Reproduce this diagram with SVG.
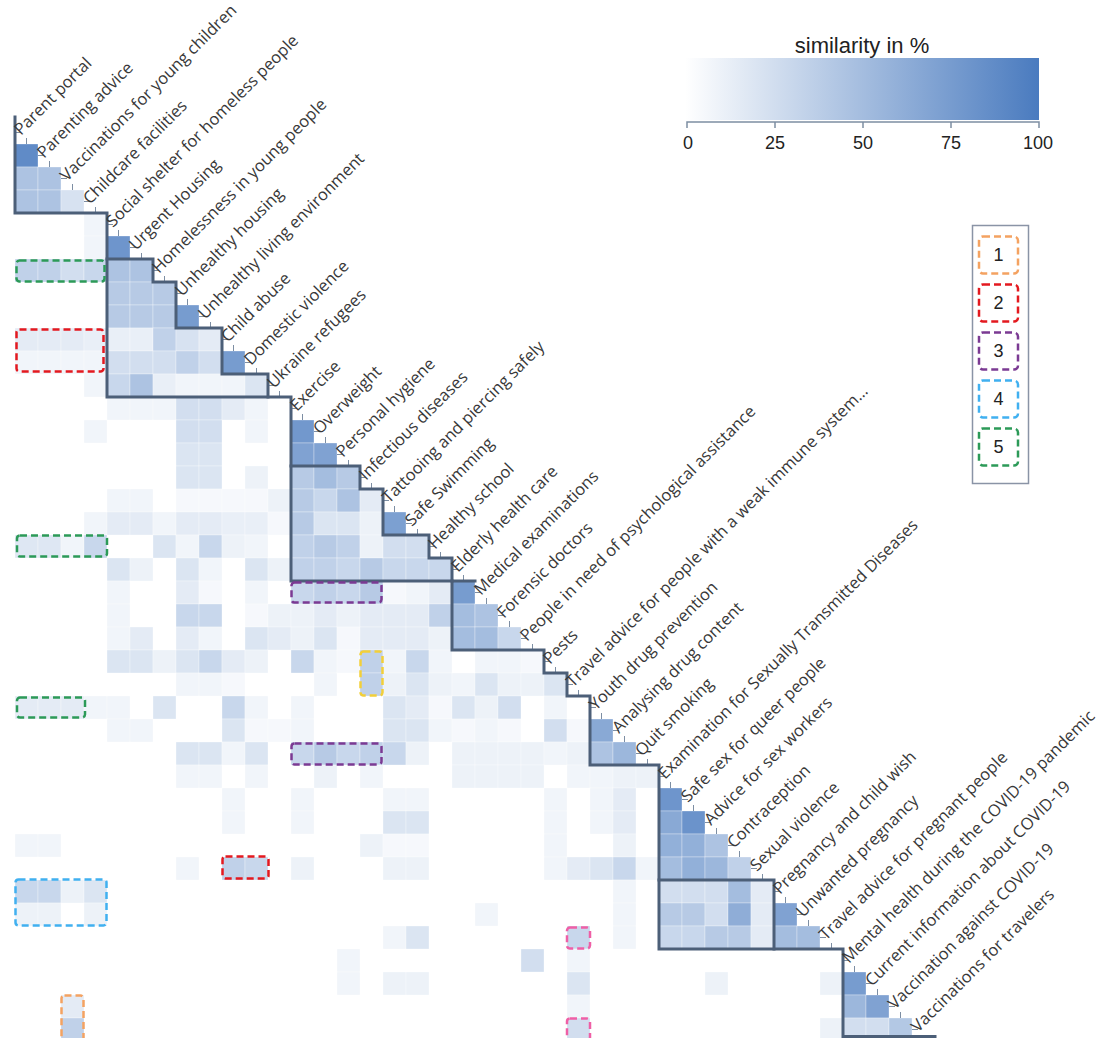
<svg xmlns="http://www.w3.org/2000/svg" width="1099" height="1038" viewBox="0 0 1099 1038">
<defs>
<linearGradient id="grad" x1="0" y1="0" x2="1" y2="0">
<stop offset="0" stop-color="#ffffff"/>
<stop offset="1" stop-color="#4a7bbf"/>
</linearGradient>
</defs>
<style>
.lab{font-family:"Open Sans","Noto Sans",sans-serif;font-size:16.5px;fill:#383838}
.num{font-family:"Liberation Sans",Arial,sans-serif;font-size:18px;fill:#222}
.ttl{font-family:"Liberation Sans",Arial,sans-serif;font-size:22px;fill:#222}
#matrix rect{fill:#4a7bbf;stroke:#fff;stroke-width:0.3}
.v5{fill-opacity:.05}.v8{fill-opacity:.08}.v10{fill-opacity:.1}.v12{fill-opacity:.12}.v15{fill-opacity:.15}.v18{fill-opacity:.18}.v20{fill-opacity:.2}.v22{fill-opacity:.22}.v25{fill-opacity:.25}.v30{fill-opacity:.3}.v35{fill-opacity:.35}.v40{fill-opacity:.4}.v42{fill-opacity:.42}.v45{fill-opacity:.45}.v50{fill-opacity:.5}.v55{fill-opacity:.55}.v60{fill-opacity:.6}.v62{fill-opacity:.62}.v65{fill-opacity:.65}.v70{fill-opacity:.7}.v72{fill-opacity:.72}.v75{fill-opacity:.75}.v78{fill-opacity:.78}.v80{fill-opacity:.8}.v82{fill-opacity:.82}.v88{fill-opacity:.88}
.ol{fill:none;stroke:#4c5f78;stroke-width:3;stroke-linecap:square}
.tk{fill:none;stroke:#7d8ea3;stroke-width:1}
.hl{fill:none;stroke-width:2.5;stroke-dasharray:7 4}
.c1{stroke:#f4a261}.c2{stroke:#e3191f}.c3{stroke:#7b3a93}.c4{stroke:#40b0f0}.c5{stroke:#2c9a58}.cy{stroke:#f2cf3a}.cp{stroke:#ef5fa6}
</style>
<rect width="1099" height="1038" fill="#fff"/>

<g id="matrix">
<g transform="translate(0,144)"><rect x="15" width="23" height="23" class="v88"/></g>
<g transform="translate(0,167)"><rect x="15" width="23" height="23" class="v45"/><rect x="38" width="23" height="23" class="v45"/></g>
<g transform="translate(0,190)"><rect x="15" width="23" height="23" class="v45"/><rect x="38" width="23" height="23" class="v45"/><rect x="61" width="23" height="23" class="v22"/></g>
<g transform="translate(0,213)"><rect x="84" width="23" height="23" class="v8"/></g>
<g transform="translate(0,236)"><rect x="84" width="23" height="23" class="v8"/><rect x="107" width="23" height="23" class="v80"/></g>
<g transform="translate(0,259)"><rect x="15" width="23" height="23" class="v35"/><rect x="38" width="23" height="23" class="v35"/><rect x="61" width="23" height="23" class="v25"/><rect x="84" width="23" height="23" class="v30"/><rect x="107" width="23" height="23" class="v45"/><rect x="130" width="23" height="23" class="v45"/></g>
<g transform="translate(0,282)"><rect x="107" width="23" height="23" class="v40"/><rect x="130" width="23" height="23" class="v40"/><rect x="153" width="23" height="23" class="v40"/></g>
<g transform="translate(0,305)"><rect x="107" width="23" height="23" class="v40"/><rect x="130" width="23" height="23" class="v40"/><rect x="153" width="23" height="23" class="v40"/><rect x="176" width="23" height="23" class="v75"/></g>
<g transform="translate(0,328)"><rect x="15" width="23" height="23" class="v15"/><rect x="38" width="23" height="23" class="v15"/><rect x="61" width="23" height="23" class="v15"/><rect x="84" width="23" height="23" class="v12"/><rect x="107" width="23" height="23" class="v12"/><rect x="130" width="23" height="23" class="v12"/><rect x="153" width="23" height="23" class="v35"/><rect x="176" width="23" height="23" class="v22"/><rect x="199" width="23" height="23" class="v15"/></g>
<g transform="translate(0,351)"><rect x="15" width="23" height="23" class="v8"/><rect x="38" width="23" height="23" class="v8"/><rect x="61" width="23" height="23" class="v8"/><rect x="84" width="23" height="23" class="v8"/><rect x="107" width="23" height="23" class="v25"/><rect x="130" width="23" height="23" class="v25"/><rect x="153" width="23" height="23" class="v25"/><rect x="176" width="23" height="23" class="v35"/><rect x="199" width="23" height="23" class="v25"/><rect x="222" width="23" height="23" class="v75"/></g>
<g transform="translate(0,374)"><rect x="84" width="23" height="23" class="v8"/><rect x="107" width="23" height="23" class="v30"/><rect x="130" width="23" height="23" class="v45"/><rect x="153" width="23" height="23" class="v12"/><rect x="176" width="23" height="23" class="v8"/><rect x="199" width="23" height="23" class="v8"/><rect x="222" width="23" height="23" class="v8"/><rect x="245" width="23" height="23" class="v20"/></g>
<g transform="translate(0,397)"><rect x="107" width="23" height="23" class="v8"/><rect x="130" width="23" height="23" class="v8"/><rect x="153" width="23" height="23" class="v8"/><rect x="176" width="23" height="23" class="v25"/><rect x="199" width="23" height="23" class="v25"/><rect x="222" width="23" height="23" class="v15"/><rect x="245" width="23" height="23" class="v8"/></g>
<g transform="translate(0,420)"><rect x="84" width="23" height="23" class="v8"/><rect x="176" width="23" height="23" class="v25"/><rect x="199" width="23" height="23" class="v25"/><rect x="245" width="23" height="23" class="v8"/><rect x="291" width="23" height="23" class="v78"/></g>
<g transform="translate(0,443)"><rect x="176" width="23" height="23" class="v20"/><rect x="199" width="23" height="23" class="v20"/><rect x="291" width="23" height="23" class="v70"/><rect x="314" width="23" height="23" class="v70"/></g>
<g transform="translate(0,466)"><rect x="176" width="23" height="23" class="v20"/><rect x="199" width="23" height="23" class="v20"/><rect x="245" width="23" height="23" class="v10"/><rect x="291" width="23" height="23" class="v40"/><rect x="314" width="23" height="23" class="v50"/><rect x="337" width="23" height="23" class="v40"/></g>
<g transform="translate(0,489)"><rect x="107" width="23" height="23" class="v8"/><rect x="130" width="23" height="23" class="v8"/><rect x="176" width="23" height="23" class="v5"/><rect x="199" width="23" height="23" class="v5"/><rect x="222" width="23" height="23" class="v5"/><rect x="245" width="23" height="23" class="v5"/><rect x="268" width="23" height="23" class="v10"/><rect x="291" width="23" height="23" class="v40"/><rect x="314" width="23" height="23" class="v30"/><rect x="337" width="23" height="23" class="v45"/><rect x="360" width="23" height="23" class="v15"/></g>
<g transform="translate(0,512)"><rect x="84" width="23" height="23" class="v8"/><rect x="107" width="23" height="23" class="v15"/><rect x="130" width="23" height="23" class="v15"/><rect x="153" width="23" height="23" class="v8"/><rect x="176" width="23" height="23" class="v15"/><rect x="199" width="23" height="23" class="v15"/><rect x="222" width="23" height="23" class="v12"/><rect x="245" width="23" height="23" class="v12"/><rect x="268" width="23" height="23" class="v5"/><rect x="291" width="23" height="23" class="v40"/><rect x="314" width="23" height="23" class="v20"/><rect x="337" width="23" height="23" class="v20"/><rect x="360" width="23" height="23" class="v10"/><rect x="383" width="23" height="23" class="v72"/></g>
<g transform="translate(0,535)"><rect x="15" width="23" height="23" class="v18"/><rect x="38" width="23" height="23" class="v18"/><rect x="61" width="23" height="23" class="v8"/><rect x="84" width="23" height="23" class="v30"/><rect x="153" width="23" height="23" class="v20"/><rect x="176" width="23" height="23" class="v8"/><rect x="199" width="23" height="23" class="v30"/><rect x="222" width="23" height="23" class="v10"/><rect x="245" width="23" height="23" class="v8"/><rect x="291" width="23" height="23" class="v35"/><rect x="314" width="23" height="23" class="v40"/><rect x="337" width="23" height="23" class="v35"/><rect x="360" width="23" height="23" class="v10"/><rect x="383" width="23" height="23" class="v25"/><rect x="406" width="23" height="23" class="v25"/></g>
<g transform="translate(0,558)"><rect x="107" width="23" height="23" class="v20"/><rect x="130" width="23" height="23" class="v10"/><rect x="176" width="23" height="23" class="v20"/><rect x="199" width="23" height="23" class="v8"/><rect x="245" width="23" height="23" class="v20"/><rect x="268" width="23" height="23" class="v10"/><rect x="291" width="23" height="23" class="v35"/><rect x="314" width="23" height="23" class="v35"/><rect x="337" width="23" height="23" class="v30"/><rect x="360" width="23" height="23" class="v40"/><rect x="383" width="23" height="23" class="v30"/><rect x="406" width="23" height="23" class="v30"/><rect x="429" width="23" height="23" class="v30"/></g>
<g transform="translate(0,581)"><rect x="107" width="23" height="23" class="v8"/><rect x="176" width="23" height="23" class="v15"/><rect x="199" width="23" height="23" class="v5"/><rect x="245" width="23" height="23" class="v8"/><rect x="291" width="23" height="23" class="v30"/><rect x="314" width="23" height="23" class="v35"/><rect x="337" width="23" height="23" class="v30"/><rect x="360" width="23" height="23" class="v40"/><rect x="383" width="23" height="23" class="v5"/><rect x="406" width="23" height="23" class="v8"/><rect x="429" width="23" height="23" class="v15"/><rect x="452" width="23" height="23" class="v75"/></g>
<g transform="translate(0,604)"><rect x="107" width="23" height="23" class="v8"/><rect x="176" width="23" height="23" class="v30"/><rect x="199" width="23" height="23" class="v30"/><rect x="245" width="23" height="23" class="v5"/><rect x="268" width="23" height="23" class="v10"/><rect x="291" width="23" height="23" class="v10"/><rect x="314" width="23" height="23" class="v15"/><rect x="337" width="23" height="23" class="v10"/><rect x="360" width="23" height="23" class="v15"/><rect x="383" width="23" height="23" class="v15"/><rect x="406" width="23" height="23" class="v15"/><rect x="429" width="23" height="23" class="v35"/><rect x="452" width="23" height="23" class="v50"/><rect x="475" width="23" height="23" class="v45"/></g>
<g transform="translate(0,627)"><rect x="107" width="23" height="23" class="v8"/><rect x="130" width="23" height="23" class="v15"/><rect x="176" width="23" height="23" class="v15"/><rect x="199" width="23" height="23" class="v8"/><rect x="245" width="23" height="23" class="v20"/><rect x="268" width="23" height="23" class="v15"/><rect x="291" width="23" height="23" class="v10"/><rect x="314" width="23" height="23" class="v20"/><rect x="337" width="23" height="23" class="v5"/><rect x="360" width="23" height="23" class="v15"/><rect x="383" width="23" height="23" class="v15"/><rect x="406" width="23" height="23" class="v15"/><rect x="429" width="23" height="23" class="v10"/><rect x="452" width="23" height="23" class="v50"/><rect x="475" width="23" height="23" class="v50"/><rect x="498" width="23" height="23" class="v30"/></g>
<g transform="translate(0,650)"><rect x="107" width="23" height="23" class="v20"/><rect x="130" width="23" height="23" class="v20"/><rect x="153" width="23" height="23" class="v10"/><rect x="176" width="23" height="23" class="v20"/><rect x="199" width="23" height="23" class="v30"/><rect x="222" width="23" height="23" class="v15"/><rect x="245" width="23" height="23" class="v10"/><rect x="291" width="23" height="23" class="v30"/><rect x="314" width="23" height="23" class="v8"/><rect x="337" width="23" height="23" class="v5"/><rect x="360" width="23" height="23" class="v35"/><rect x="383" width="23" height="23" class="v8"/><rect x="406" width="23" height="23" class="v30"/><rect x="429" width="23" height="23" class="v8"/><rect x="475" width="23" height="23" class="v8"/><rect x="498" width="23" height="23" class="v8"/><rect x="521" width="23" height="23" class="v5"/></g>
<g transform="translate(0,673)"><rect x="176" width="23" height="23" class="v8"/><rect x="199" width="23" height="23" class="v8"/><rect x="222" width="23" height="23" class="v5"/><rect x="314" width="23" height="23" class="v8"/><rect x="360" width="23" height="23" class="v35"/><rect x="383" width="23" height="23" class="v10"/><rect x="406" width="23" height="23" class="v20"/><rect x="429" width="23" height="23" class="v10"/><rect x="452" width="23" height="23" class="v8"/><rect x="475" width="23" height="23" class="v20"/><rect x="498" width="23" height="23" class="v10"/><rect x="521" width="23" height="23" class="v10"/><rect x="544" width="23" height="23" class="v20"/></g>
<g transform="translate(0,696)"><rect x="15" width="23" height="23" class="v15"/><rect x="38" width="23" height="23" class="v15"/><rect x="61" width="23" height="23" class="v15"/><rect x="84" width="23" height="23" class="v8"/><rect x="107" width="23" height="23" class="v8"/><rect x="153" width="23" height="23" class="v20"/><rect x="222" width="23" height="23" class="v30"/><rect x="245" width="23" height="23" class="v8"/><rect x="291" width="23" height="23" class="v8"/><rect x="383" width="23" height="23" class="v20"/><rect x="406" width="23" height="23" class="v15"/><rect x="429" width="23" height="23" class="v5"/><rect x="452" width="23" height="23" class="v20"/><rect x="475" width="23" height="23" class="v10"/><rect x="498" width="23" height="23" class="v25"/><rect x="544" width="23" height="23" class="v8"/></g>
<g transform="translate(0,719)"><rect x="107" width="23" height="23" class="v8"/><rect x="130" width="23" height="23" class="v8"/><rect x="222" width="23" height="23" class="v20"/><rect x="245" width="23" height="23" class="v5"/><rect x="268" width="23" height="23" class="v5"/><rect x="291" width="23" height="23" class="v8"/><rect x="383" width="23" height="23" class="v20"/><rect x="406" width="23" height="23" class="v20"/><rect x="429" width="23" height="23" class="v8"/><rect x="452" width="23" height="23" class="v5"/><rect x="475" width="23" height="23" class="v8"/><rect x="498" width="23" height="23" class="v5"/><rect x="544" width="23" height="23" class="v25"/><rect x="567" width="23" height="23" class="v5"/><rect x="590" width="23" height="23" class="v65"/></g>
<g transform="translate(0,742)"><rect x="176" width="23" height="23" class="v20"/><rect x="199" width="23" height="23" class="v20"/><rect x="222" width="23" height="23" class="v8"/><rect x="245" width="23" height="23" class="v20"/><rect x="291" width="23" height="23" class="v30"/><rect x="314" width="23" height="23" class="v40"/><rect x="337" width="23" height="23" class="v30"/><rect x="360" width="23" height="23" class="v35"/><rect x="383" width="23" height="23" class="v30"/><rect x="406" width="23" height="23" class="v10"/><rect x="452" width="23" height="23" class="v10"/><rect x="475" width="23" height="23" class="v10"/><rect x="498" width="23" height="23" class="v10"/><rect x="521" width="23" height="23" class="v10"/><rect x="544" width="23" height="23" class="v8"/><rect x="567" width="23" height="23" class="v10"/><rect x="590" width="23" height="23" class="v45"/><rect x="613" width="23" height="23" class="v55"/></g>
<g transform="translate(0,765)"><rect x="176" width="23" height="23" class="v8"/><rect x="199" width="23" height="23" class="v8"/><rect x="245" width="23" height="23" class="v8"/><rect x="314" width="23" height="23" class="v10"/><rect x="360" width="23" height="23" class="v8"/><rect x="452" width="23" height="23" class="v10"/><rect x="475" width="23" height="23" class="v10"/><rect x="498" width="23" height="23" class="v10"/><rect x="521" width="23" height="23" class="v10"/><rect x="567" width="23" height="23" class="v8"/><rect x="590" width="23" height="23" class="v8"/><rect x="613" width="23" height="23" class="v10"/><rect x="636" width="23" height="23" class="v10"/></g>
<g transform="translate(0,788)"><rect x="222" width="23" height="23" class="v8"/><rect x="291" width="23" height="23" class="v8"/><rect x="383" width="23" height="23" class="v8"/><rect x="406" width="23" height="23" class="v8"/><rect x="544" width="23" height="23" class="v8"/><rect x="590" width="23" height="23" class="v8"/><rect x="613" width="23" height="23" class="v15"/><rect x="659" width="23" height="23" class="v80"/></g>
<g transform="translate(0,811)"><rect x="222" width="23" height="23" class="v8"/><rect x="291" width="23" height="23" class="v8"/><rect x="383" width="23" height="23" class="v20"/><rect x="406" width="23" height="23" class="v20"/><rect x="544" width="23" height="23" class="v8"/><rect x="590" width="23" height="23" class="v8"/><rect x="613" width="23" height="23" class="v15"/><rect x="659" width="23" height="23" class="v65"/><rect x="682" width="23" height="23" class="v82"/></g>
<g transform="translate(0,834)"><rect x="15" width="23" height="23" class="v8"/><rect x="38" width="23" height="23" class="v8"/><rect x="360" width="23" height="23" class="v10"/><rect x="383" width="23" height="23" class="v5"/><rect x="406" width="23" height="23" class="v5"/><rect x="544" width="23" height="23" class="v8"/><rect x="613" width="23" height="23" class="v10"/><rect x="659" width="23" height="23" class="v60"/><rect x="682" width="23" height="23" class="v60"/><rect x="705" width="23" height="23" class="v45"/></g>
<g transform="translate(0,857)"><rect x="176" width="23" height="23" class="v8"/><rect x="222" width="23" height="23" class="v35"/><rect x="245" width="23" height="23" class="v30"/><rect x="291" width="23" height="23" class="v10"/><rect x="383" width="23" height="23" class="v10"/><rect x="406" width="23" height="23" class="v10"/><rect x="544" width="23" height="23" class="v8"/><rect x="567" width="23" height="23" class="v15"/><rect x="590" width="23" height="23" class="v20"/><rect x="613" width="23" height="23" class="v30"/><rect x="636" width="23" height="23" class="v8"/><rect x="659" width="23" height="23" class="v50"/><rect x="682" width="23" height="23" class="v60"/><rect x="705" width="23" height="23" class="v55"/><rect x="728" width="23" height="23" class="v35"/></g>
<g transform="translate(0,880)"><rect x="15" width="23" height="23" class="v30"/><rect x="38" width="23" height="23" class="v30"/><rect x="61" width="23" height="23" class="v10"/><rect x="84" width="23" height="23" class="v20"/><rect x="613" width="23" height="23" class="v8"/><rect x="659" width="23" height="23" class="v25"/><rect x="682" width="23" height="23" class="v25"/><rect x="705" width="23" height="23" class="v25"/><rect x="728" width="23" height="23" class="v50"/><rect x="751" width="23" height="23" class="v15"/></g>
<g transform="translate(0,903)"><rect x="15" width="23" height="23" class="v10"/><rect x="38" width="23" height="23" class="v10"/><rect x="84" width="23" height="23" class="v10"/><rect x="475" width="23" height="23" class="v8"/><rect x="613" width="23" height="23" class="v8"/><rect x="659" width="23" height="23" class="v40"/><rect x="682" width="23" height="23" class="v40"/><rect x="705" width="23" height="23" class="v25"/><rect x="728" width="23" height="23" class="v62"/><rect x="751" width="23" height="23" class="v15"/><rect x="774" width="23" height="23" class="v70"/></g>
<g transform="translate(0,926)"><rect x="383" width="23" height="23" class="v8"/><rect x="406" width="23" height="23" class="v20"/><rect x="567" width="23" height="23" class="v30"/><rect x="613" width="23" height="23" class="v8"/><rect x="659" width="23" height="23" class="v30"/><rect x="682" width="23" height="23" class="v30"/><rect x="705" width="23" height="23" class="v40"/><rect x="728" width="23" height="23" class="v40"/><rect x="751" width="23" height="23" class="v15"/><rect x="774" width="23" height="23" class="v50"/><rect x="797" width="23" height="23" class="v50"/></g>
<g transform="translate(0,949)"><rect x="337" width="23" height="23" class="v8"/><rect x="521" width="23" height="23" class="v25"/><rect x="567" width="23" height="23" class="v8"/></g>
<g transform="translate(0,972)"><rect x="337" width="23" height="23" class="v8"/><rect x="383" width="23" height="23" class="v10"/><rect x="406" width="23" height="23" class="v10"/><rect x="567" width="23" height="23" class="v20"/><rect x="705" width="23" height="23" class="v10"/><rect x="820" width="23" height="23" class="v10"/><rect x="843" width="23" height="23" class="v75"/></g>
<g transform="translate(0,995)"><rect x="61" width="23" height="23" class="v15"/><rect x="567" width="23" height="23" class="v8"/><rect x="843" width="23" height="23" class="v55"/><rect x="866" width="23" height="23" class="v70"/></g>
<g transform="translate(0,1018)"><rect x="61" width="23" height="23" class="v35"/><rect x="567" width="23" height="23" class="v25"/><rect x="820" width="23" height="23" class="v10"/><rect x="843" width="23" height="23" class="v25"/><rect x="866" width="23" height="23" class="v25"/><rect x="889" width="23" height="23" class="v42"/></g>
</g>

<g id="ticks">
<path class="tk" d="M26.5,138v6M15,132.5h6M49.5,161v6M38,155.5h6M72.5,184v6M61,178.5h6M95.5,207v6M84,201.5h6M118.5,230v6M107,224.5h6M141.5,253v6M130,247.5h6M164.5,276v6M153,270.5h6M187.5,299v6M176,293.5h6M210.5,322v6M199,316.5h6M233.5,345v6M222,339.5h6M256.5,368v6M245,362.5h6M279.5,391v6M268,385.5h6M302.5,414v6M291,408.5h6M325.5,437v6M314,431.5h6M348.5,460v6M337,454.5h6M371.5,483v6M360,477.5h6M394.5,506v6M383,500.5h6M417.5,529v6M406,523.5h6M440.5,552v6M429,546.5h6M463.5,575v6M452,569.5h6M486.5,598v6M475,592.5h6M509.5,621v6M498,615.5h6M532.5,644v6M521,638.5h6M555.5,667v6M544,661.5h6M578.5,690v6M567,684.5h6M601.5,713v6M590,707.5h6M624.5,736v6M613,730.5h6M647.5,759v6M636,753.5h6M670.5,782v6M659,776.5h6M693.5,805v6M682,799.5h6M716.5,828v6M705,822.5h6M739.5,851v6M728,845.5h6M762.5,874v6M751,868.5h6M785.5,897v6M774,891.5h6M808.5,920v6M797,914.5h6M831.5,943v6M820,937.5h6M854.5,966v6M843,960.5h6M877.5,989v6M866,983.5h6M900.5,1012v6M889,1006.5h6M923.5,1035v6M912,1029.5h6"/>
</g>

<g id="connectors">
<path class="ol" d="M15,117V213H107V397H291V581H475"/>
<path class="ol" d="M107,259H153V282H176V328H222V374H268V397"/>
<path class="ol" d="M291,466H360V489H383V535H429V558H452V581"/>
<path class="ol" d="M452,581V650H544V673H567V696H590V765H659V949H843V1036.5H935"/>
<path class="ol" d="M659,880H774V949"/>
</g>

<g id="highlights">
<rect class="hl c5" x="16.5" y="260.5" width="88" height="21" rx="3"/>
<rect class="hl c5" x="17" y="535.5" width="90" height="21" rx="3"/>
<rect class="hl c5" x="17" y="697.5" width="68" height="20" rx="3"/>
<rect class="hl c2" x="16.5" y="329.5" width="87" height="42" rx="3"/>
<rect class="hl c2" x="222.5" y="856.5" width="46" height="22" rx="3"/>
<rect class="hl c3" x="291.5" y="582.5" width="90" height="20" rx="3"/>
<rect class="hl c3" x="291.5" y="743.5" width="90" height="21" rx="3"/>
<rect class="hl cy" x="360.5" y="651.5" width="22" height="44" rx="3"/>
<rect class="hl c4" x="15.5" y="879.5" width="91" height="46" rx="3"/>
<rect class="hl c1" x="61.5" y="995.5" width="22" height="46" rx="3"/>
<rect class="hl cp" x="567" y="927.5" width="23" height="21" rx="3"/>
<rect class="hl cp" x="567" y="1018.5" width="23" height="22" rx="3"/>
</g>

<g id="labels">
<g id="item-0"><text class="lab" transform="translate(21,136) rotate(-45)">Parent portal</text></g>
<g id="item-1"><text class="lab" transform="translate(44,159) rotate(-45)">Parenting advice</text></g>
<g id="item-2"><text class="lab" transform="translate(67,182) rotate(-45)">Vaccinations for young children</text></g>
<g id="item-3"><text class="lab" transform="translate(90,205) rotate(-45)">Childcare facilities</text></g>
<g id="item-4"><text class="lab" transform="translate(113,228) rotate(-45)">Social shelter for homeless people</text></g>
<g id="item-5"><text class="lab" transform="translate(136,251) rotate(-45)">Urgent Housing</text></g>
<g id="item-6"><text class="lab" transform="translate(159,274) rotate(-45)">Homelessness in young people</text></g>
<g id="item-7"><text class="lab" transform="translate(182,297) rotate(-45)">Unhealthy housing</text></g>
<g id="item-8"><text class="lab" transform="translate(205,320) rotate(-45)">Unhealthy living environment</text></g>
<g id="item-9"><text class="lab" transform="translate(228,343) rotate(-45)">Child abuse</text></g>
<g id="item-10"><text class="lab" transform="translate(251,366) rotate(-45)">Domestic violence</text></g>
<g id="item-11"><text class="lab" transform="translate(274,389) rotate(-45)">Ukraine refugees</text></g>
<g id="item-12"><text class="lab" transform="translate(297,412) rotate(-45)">Exercise</text></g>
<g id="item-13"><text class="lab" transform="translate(320,435) rotate(-45)">Overweight</text></g>
<g id="item-14"><text class="lab" transform="translate(343,458) rotate(-45)">Personal hygiene</text></g>
<g id="item-15"><text class="lab" transform="translate(366,481) rotate(-45)">Infectious diseases</text></g>
<g id="item-16"><text class="lab" transform="translate(389,504) rotate(-45)">Tattooing and piercing safely</text></g>
<g id="item-17"><text class="lab" transform="translate(412,527) rotate(-45)">Safe Swimming</text></g>
<g id="item-18"><text class="lab" transform="translate(435,550) rotate(-45)">Healthy school</text></g>
<g id="item-19"><text class="lab" transform="translate(458,573) rotate(-45)">Elderly health care</text></g>
<g id="item-20"><text class="lab" transform="translate(481,596) rotate(-45)">Medical examinations</text></g>
<g id="item-21"><text class="lab" transform="translate(504,619) rotate(-45)">Forensic doctors</text></g>
<g id="item-22"><text class="lab" transform="translate(527,642) rotate(-45)">People in need of psychological assistance</text></g>
<g id="item-23"><text class="lab" transform="translate(550,665) rotate(-45)">Pests</text></g>
<g id="item-24"><text class="lab" transform="translate(573,688) rotate(-45)">Travel advice for people with a weak immune system...</text></g>
<g id="item-25"><text class="lab" transform="translate(596,711) rotate(-45)">Youth drug prevention</text></g>
<g id="item-26"><text class="lab" transform="translate(619,734) rotate(-45)">Analysing drug content</text></g>
<g id="item-27"><text class="lab" transform="translate(642,757) rotate(-45)">Quit smoking</text></g>
<g id="item-28"><text class="lab" transform="translate(665,780) rotate(-45)">Examination for Sexually Transmitted Diseases</text></g>
<g id="item-29"><text class="lab" transform="translate(688,803) rotate(-45)">Safe sex for queer people</text></g>
<g id="item-30"><text class="lab" transform="translate(711,826) rotate(-45)">Advice for sex workers</text></g>
<g id="item-31"><text class="lab" transform="translate(734,849) rotate(-45)">Contraception</text></g>
<g id="item-32"><text class="lab" transform="translate(757,872) rotate(-45)">Sexual violence</text></g>
<g id="item-33"><text class="lab" transform="translate(780,895) rotate(-45)">Pregnancy and child wish</text></g>
<g id="item-34"><text class="lab" transform="translate(803,918) rotate(-45)">Unwanted pregnancy</text></g>
<g id="item-35"><text class="lab" transform="translate(826,941) rotate(-45)">Travel advice for pregnant people</text></g>
<g id="item-36"><text class="lab" transform="translate(849,964) rotate(-45)">Mental health during the COVID-19 pandemic</text></g>
<g id="item-37"><text class="lab" transform="translate(872,987) rotate(-45)">Current information about COVID-19</text></g>
<g id="item-38"><text class="lab" transform="translate(895,1010) rotate(-45)">Vaccination against COVID-19</text></g>
<g id="item-39"><text class="lab" transform="translate(918,1033) rotate(-45)">Vaccinations for travelers</text></g>
</g>

<g id="colorbar">
<text class="ttl" x="862" y="53" text-anchor="middle">similarity in %</text>
<rect x="685" y="58" width="354" height="62" fill="url(#grad)"/>
<path d="M687,128V122H1039V128M775,122v6M863,122v6M951,122v6" fill="none" stroke="#7d8ea3" stroke-width="1.5"/>
<text class="num" x="688" y="149" text-anchor="middle">0</text>
<text class="num" x="775" y="149" text-anchor="middle">25</text>
<text class="num" x="863" y="149" text-anchor="middle">50</text>
<text class="num" x="951" y="149" text-anchor="middle">75</text>
<text class="num" x="1038" y="149" text-anchor="middle">100</text>
</g>

<g id="key">
<rect x="972.5" y="225.5" width="56" height="258" fill="#fff" stroke="#8a94a6" stroke-width="1.5"/>
<g id="key-1"><rect class="hl c1" x="979" y="236.5" width="39" height="37" rx="4" stroke-width="3"/><text class="num" x="998.5" y="261" text-anchor="middle">1</text></g>
<g id="key-2"><rect class="hl c2" x="979" y="284.5" width="39" height="37" rx="4" stroke-width="3"/><text class="num" x="998.5" y="309" text-anchor="middle">2</text></g>
<g id="key-3"><rect class="hl c3" x="979" y="332.5" width="39" height="37" rx="4" stroke-width="3"/><text class="num" x="998.5" y="357" text-anchor="middle">3</text></g>
<g id="key-4"><rect class="hl c4" x="979" y="380.5" width="39" height="37" rx="4" stroke-width="3"/><text class="num" x="998.5" y="405" text-anchor="middle">4</text></g>
<g id="key-5"><rect class="hl c5" x="979" y="428.5" width="39" height="37" rx="4" stroke-width="3"/><text class="num" x="998.5" y="453" text-anchor="middle">5</text></g>
</g>
</svg>
